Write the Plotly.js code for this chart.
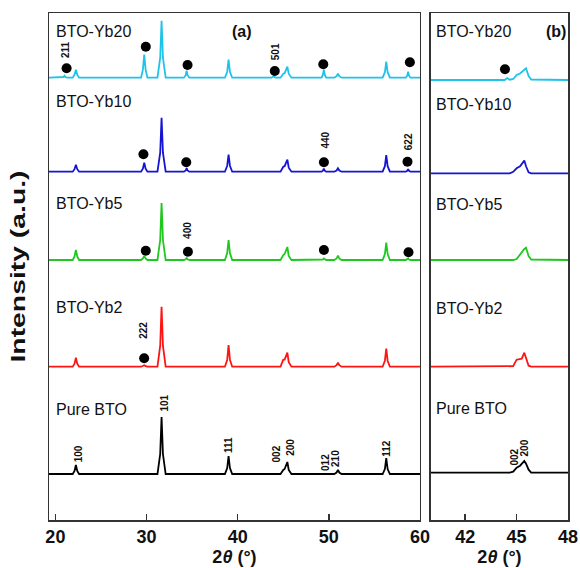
<!DOCTYPE html>
<html>
<head>
<meta charset="utf-8">
<script src="https://cdn.plot.ly/plotly-3.0.1.min.js"></script>
<style>html,body{margin:0;padding:0;background:#fff;}#chart{width:580px;height:568px;}</style>
</head>
<body>
<div id="chart"></div>
<script>
// ---------- DATA ----------
const seriesNames = ['Pure BTO', 'BTO-Yb2', 'BTO-Yb5', 'BTO-Yb10', 'BTO-Yb20'];
const seriesColors = ['#000000', '#ff1414', '#1ec81e', '#1414d2', '#1ec3ea'];

// Panel (a): 2theta grid and intensities (a.u., above each pattern's baseline)
const twoThetaA = [19.3,
  20.7, 20.9, 21.0, 21.1, 21.3,
  21.9, 22.1, 22.25, 22.4, 22.6,
  29.4, 29.6, 29.75, 29.9, 30.1,
  31.2, 31.5, 31.65, 31.8, 32.1,
  34.1, 34.3, 34.4, 34.5, 34.7,
  38.6, 38.85, 39.0, 39.15, 39.4,
  43.7, 43.85, 43.95, 44.05, 44.2,
  44.7, 45.0, 45.15, 45.45, 45.6, 45.9,
  49.2, 49.35, 49.45, 49.55, 49.7,
  50.6, 50.85, 51.0, 51.15, 51.4,
  55.9, 56.15, 56.3, 56.45, 56.7,
  58.45, 58.6, 58.7, 58.8, 58.95,
  60.0];
const intPureA = [0,
  0, 0, 0, 0, 0,
  0, 3, 9, 3, 0,
  0, 0, 0, 0, 0,
  0, 20, 57, 20, 0,
  0, 0, 0, 0, 0,
  0, 6, 18, 6, 0,
  0, 0, 0, 0, 0,
  0, 4, 5, 12, 4, 0,
  0, 0, 0, 0, 0,
  0, 1.5, 4, 1.5, 0,
  0, 5, 16, 5, 0,
  0, 0, 0, 0, 0,
  0];
const intYb2A = [0,
  0, 0, 0, 0, 0,
  0, 3, 9, 3, 0,
  0, 0.5, 1.5, 0.5, 0,
  0, 21, 60, 21, 0,
  0, 0, 0, 0, 0,
  0, 7, 21.5, 7, 0,
  0, 0, 0, 0, 0,
  0, 7, 7, 14, 4.5, 0,
  0, 0, 0, 0, 0,
  0, 1.5, 4, 1.5, 0,
  0, 6, 18, 6, 0,
  0, 0, 0, 0, 0,
  0];
const intYb5A = [0,
  0, 0, 0, 0, 0,
  0, 3.5, 10, 3.5, 0,
  0, 1.5, 4, 1.5, 0,
  0, 20, 57, 20, 0,
  0, 0.7, 2, 0.7, 0,
  0, 7, 20, 7, 0,
  0, 0, 0, 0, 0,
  0, 5, 6, 13, 4, 0,
  0, 0.5, 1.5, 0.5, 0,
  0, 1.5, 4.5, 1.5, 0,
  0, 6, 17.5, 6, 0,
  0, 0.5, 1.5, 0.5, 0,
  0];
const intYb10A = [0,
  0, 0, 0, 0, 0,
  0, 2.5, 7, 2.5, 0,
  0, 3, 9, 3, 0,
  0, 19, 54, 19, 0,
  0, 1.2, 3.5, 1.2, 0,
  0, 6, 17, 6, 0,
  0, 0, 0, 0, 0,
  0, 5, 5.5, 12, 4, 0,
  0, 1, 3, 1, 0,
  0, 1.2, 3.5, 1.2, 0,
  0, 5.5, 16.5, 5.5, 0,
  0, 0.8, 2.5, 0.8, 0,
  0];
const intYb20A = [0,
  0, 0.7, 2, 0.7, 0,
  0, 3, 8, 3, 0,
  0, 8, 23, 8, 0,
  0, 20, 57, 20, 0,
  0, 2.5, 7, 2.5, 0,
  0, 6, 18, 6, 0,
  0, 0.5, 1.5, 0.5, 0,
  0, 4, 4.5, 11, 4, 0,
  0, 3, 8, 3, 0,
  0, 1.5, 4, 1.5, 0,
  0, 5.5, 16, 5.5, 0,
  0, 2, 6, 2, 0,
  0];

// Panel (b): zoom on the 002/200 region
const twoThetaB = [40, 44.3, 44.45, 44.6, 44.8, 45.0, 45.2, 45.3, 45.45, 45.55, 45.7, 45.85, 48];
const intPureB  = [0, 0, 0, 0, 1, 5, 7, 8.5, 11.7, 9, 3, 0, 0];
const intYb2B   = [0, 0, 0, 0, 0.5, 7, 7.3, 8, 14, 8, 1, 0, 0];
const intYb5B   = [0, 0, 0, 0, 0, 1, 6, 8, 11, 12.3, 4, 0.5, 0];
const intYb10B  = [0, 0, 0, 0, 1.5, 5, 7, 9, 12.7, 7, 1, 0, 0];
const intYb20B  = [0, 0, 2, 0.3, 1, 5, 6.5, 8, 9.5, 11.7, 4, 0.5, 0];

// Secondary-phase (Yb2O3) markers: series index, 2theta, height above baseline
const dotSeries = [4, 4, 4, 4, 4, 4, 3, 3, 3, 3, 2, 2, 2, 2, 1];
const dotTheta  = [21.23, 29.92, 34.5, 44.07, 49.39, 58.89, 29.66, 34.36, 49.46, 58.63, 29.92, 34.54, 49.46, 58.74, 29.74];
const dotHeight = [9.4, 31, 12.7, 6.7, 13.4, 15.4, 17.4, 9.4, 9.4, 10, 9.3, 8.3, 10, 7.7, 8.4];
const dotSeriesB = [4];
const dotThetaB  = [44.32];
const dotHeightB = [10.7];

// hkl labels
const hklText   = ['100', '101', '111', '002', '200', '012', '210', '112', '211', '501', '440', '622', '400', '222'];
const hklSeries = [0, 0, 0, 0, 0, 0, 0, 0, 4, 4, 3, 3, 2, 1];
const hklTheta  = [22.51, 31.94, 38.94, 44.22, 45.8, 49.65, 50.75, 56.33, 21.05, 44.15, 49.53, 58.74, 34.43, 29.74];
const hklHeight = [20, 70.7, 29, 19.7, 26.7, 11.7, 15.7, 25.7, 28.7, 26, 31.7, 30, 30, 36];
const hklTextB   = ['002', '200'];
const hklThetaB  = [44.9, 45.44];
const hklHeightB = [16, 24.4];

// ---------- LAYOUT CONSTANTS ----------
const baseA = [46, 153.3, 260, 348.3, 442.3];
const baseB = [47.3, 153.3, 260, 346.7, 440];
const nameYA = [111, 213, 317, 418.3, 489];
const nameYB = [111.7, 211.7, 316, 415.7, 488.3];
const FONT = 'Liberation Sans, Arial, Helvetica, sans-serif';

const dataA = [intPureA, intYb2A, intYb5A, intYb10A, intYb20A];
const dataB = [intPureB, intYb2B, intYb5B, intYb10B, intYb20B];

const traces = [];
seriesNames.forEach((name, i) => {
  traces.push({
    x: twoThetaA, y: dataA[i].map(v => v + baseA[i]),
    type: 'scatter', mode: 'lines', name: name,
    line: {color: seriesColors[i], width: 1.8}, xaxis: 'x', yaxis: 'y',
    hoverinfo: 'skip'
  });
  traces.push({
    x: twoThetaB, y: dataB[i].map(v => v + baseB[i]),
    type: 'scatter', mode: 'lines', name: name,
    line: {color: seriesColors[i], width: 1.8}, xaxis: 'x2', yaxis: 'y2',
    hoverinfo: 'skip'
  });
});
traces.push({
  x: dotTheta, y: dotHeight.map((h, k) => h + baseA[dotSeries[k]]),
  type: 'scatter', mode: 'markers', marker: {color: '#000', size: 10},
  xaxis: 'x', yaxis: 'y', hoverinfo: 'skip'
});
traces.push({
  x: dotThetaB, y: dotHeightB.map((h, k) => h + baseB[dotSeriesB[k]]),
  type: 'scatter', mode: 'markers', marker: {color: '#000', size: 10},
  xaxis: 'x2', yaxis: 'y2', hoverinfo: 'skip'
});

const hklFont = {family: FONT, size: 10, color: '#111', weight: 'bold'};
const annotations = [];
hklText.forEach((t, k) => annotations.push({
  text: t, x: hklTheta[k], y: hklHeight[k] + baseA[hklSeries[k]], xref: 'x', yref: 'y',
  showarrow: false, textangle: -90, font: hklFont,
  xanchor: 'center', yanchor: 'middle'
}));
hklTextB.forEach((t, k) => annotations.push({
  text: t, x: hklThetaB[k], y: hklHeightB[k] + baseB[0], xref: 'x2', yref: 'y2',
  showarrow: false, textangle: -90, font: hklFont,
  xanchor: 'center', yanchor: 'middle'
}));
seriesNames.forEach((name, i) => {
  annotations.push({text: name, x: 19.9, y: nameYA[i], xref: 'x', yref: 'y', showarrow: false,
    xanchor: 'left', yanchor: 'middle', font: {family: FONT, size: 16, color: '#111'}});
  annotations.push({text: name, x: 40.15, y: nameYB[i], xref: 'x2', yref: 'y2', showarrow: false,
    xanchor: 'left', yanchor: 'middle', font: {family: FONT, size: 16, color: '#111'}});
});
annotations.push({text: '(a)', x: 40.5, y: 488.3, xref: 'x', yref: 'y', showarrow: false,
  xanchor: 'center', yanchor: 'middle', font: {family: FONT, size: 16, color: '#111', weight: 'bold'}});
annotations.push({text: '(b)', x: 47.3, y: 488.3, xref: 'x2', yref: 'y2', showarrow: false,
  xanchor: 'center', yanchor: 'middle', font: {family: FONT, size: 16, color: '#111', weight: 'bold'}});

const axLine = '#333';
const tickFont = {family: FONT, size: 18, color: '#111', weight: 'bold'};
const titleFont = {family: FONT, size: 18, color: '#111', weight: 'bold'};
const layout = {
  width: 580, height: 568,
  margin: {l: 49, r: 12, t: 13, b: 48},
  paper_bgcolor: '#fff', plot_bgcolor: '#fff',
  showlegend: false,
  xaxis: {
    domain: [0, 0.7148], range: [19.3, 60], tickvals: [20, 30, 40, 50, 60],
    ticks: 'inside', ticklen: 6, tickwidth: 1.5, tickcolor: axLine,
    showline: true, linecolor: axLine, linewidth: 1.5, mirror: true,
    showgrid: false, zeroline: false, tickfont: tickFont,
    title: {text: '2<i>θ</i> (°)', font: titleFont, standoff: 2}, anchor: 'y'
  },
  xaxis2: {
    domain: [0.736, 1], range: [40, 48], tickvals: [42, 45, 48],
    ticks: 'inside', ticklen: 6, tickwidth: 1.5, tickcolor: axLine,
    showline: true, linecolor: axLine, linewidth: 1.5, mirror: true,
    showgrid: false, zeroline: false, tickfont: tickFont,
    title: {text: '2<i>θ</i> (°)', font: titleFont, standoff: 2}, anchor: 'y2'
  },
  yaxis: {
    range: [0, 507], showticklabels: false, ticks: '', showgrid: false, zeroline: false,
    showline: true, linecolor: axLine, linewidth: 1.5, mirror: true, anchor: 'x',
    title: {text: 'Intensity (a.u.)', font: {family: FONT, size: 20, color: '#111', weight: 'bold'}, standoff: 16}
  },
  yaxis2: {
    range: [0, 507], showticklabels: false, ticks: '', showgrid: false, zeroline: false,
    showline: true, linecolor: axLine, linewidth: 1.5, mirror: true, anchor: 'x2'
  },
  annotations: annotations
};

Plotly.newPlot('chart', traces, layout, {staticPlot: true, displayModeBar: false}).then(() => {
  const t = document.querySelector('.ytitle');
  if (t) { t.setAttribute('textLength', '192'); t.setAttribute('lengthAdjust', 'spacingAndGlyphs'); }
});
</script>
</body>
</html>
